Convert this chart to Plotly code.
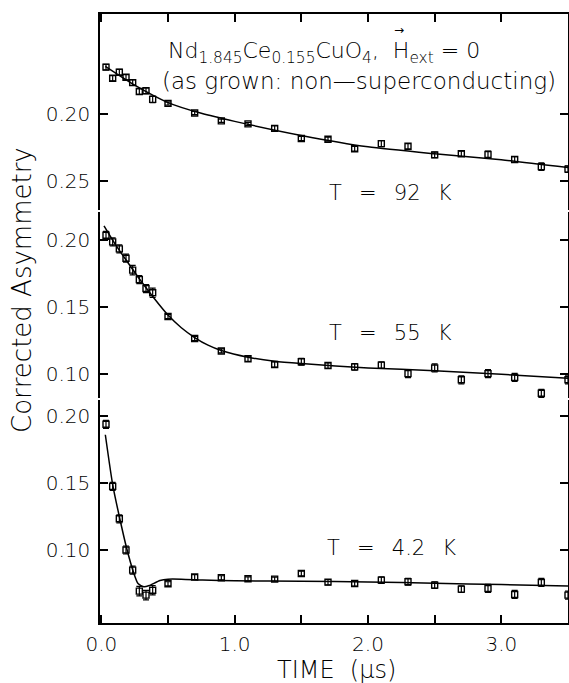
import plotly.graph_objects as go

# ---------------- data ----------------
time_us = [0.035, 0.085, 0.135, 0.185, 0.235, 0.285, 0.335, 0.385,
           0.5, 0.7, 0.9, 1.1, 1.3, 1.5, 1.7, 1.9, 2.1, 2.3, 2.5, 2.7,
           2.9, 3.1, 3.3, 3.5]

asym_92K = [0.2350, 0.2267, 0.2312, 0.2274, 0.2234, 0.2168, 0.2173, 0.2109,
            0.2079, 0.2008, 0.1949, 0.1926, 0.1893, 0.1817, 0.1812, 0.1741,
            0.1779, 0.1759, 0.1695, 0.1703, 0.1698, 0.1660, 0.1607, 0.1589]
err_92K = [0.0020, 0.0020, 0.0022, 0.0020, 0.0020, 0.0022, 0.0022, 0.0025,
           0.0012, 0.0012, 0.0012, 0.0012, 0.0018, 0.0015, 0.0015, 0.0018,
           0.0022, 0.0020, 0.0020, 0.0020, 0.0025, 0.0022, 0.0028, 0.0025]

asym_55K = [0.2035, 0.1986, 0.1934, 0.1864, 0.1775, 0.1704, 0.1638, 0.1606,
            0.1429, 0.1265, 0.1172, 0.1114, 0.1071, 0.1091, 0.1063, 0.1053,
            0.1066, 0.1003, 0.1045, 0.0957, 0.1003, 0.0975, 0.0856, 0.0957]
err_55K = [0.003, 0.003, 0.003, 0.003, 0.0035, 0.003, 0.003, 0.0035,
           0.0015, 0.0015, 0.0015, 0.002, 0.002, 0.0025, 0.002, 0.0025,
           0.0025, 0.003, 0.003, 0.003, 0.003, 0.003, 0.003, 0.003]

asym_4K = [0.1938, 0.1475, 0.1233, 0.1000, 0.0850, 0.0693, 0.0663, 0.0700,
           0.0748, 0.0798, 0.0793, 0.0785, 0.0783, 0.0825, 0.0760, 0.0750,
           0.0775, 0.0763, 0.0738, 0.0708, 0.0713, 0.0668, 0.0758, 0.0663]
err_4K = [0.003, 0.003, 0.003, 0.003, 0.003, 0.0035, 0.0035, 0.0035,
          0.0015, 0.0018, 0.0015, 0.0015, 0.0015, 0.0018, 0.002, 0.002,
          0.0025, 0.0025, 0.0025, 0.0025, 0.003, 0.003, 0.003, 0.003]

fit_92K_t = [0.03, 0.25, 0.5, 0.75, 1.0, 1.5, 2.0, 2.5, 3.0, 3.5]
fit_92K_v = [0.2355, 0.2215, 0.2085, 0.2005, 0.1945, 0.1840, 0.1755, 0.1703, 0.1658, 0.1600]

fit_55K_t = [0.02, 0.1, 0.2, 0.3, 0.4, 0.5, 0.6, 0.7, 0.8, 0.9, 1.1, 1.3, 1.5, 2.0, 2.5, 3.0, 3.5]
fit_55K_v = [0.2105, 0.1975, 0.1830, 0.1690, 0.1560, 0.1440, 0.1345, 0.1272, 0.1215,
             0.1175, 0.1125, 0.1095, 0.1078, 0.1045, 0.1025, 0.0998, 0.0968]

fit_4K_t = [0.03, 0.085, 0.135, 0.19, 0.24, 0.275, 0.32, 0.36, 0.44, 0.5, 0.6, 0.76,
            1.0, 1.5, 2.0, 2.5, 3.0, 3.5]
fit_4K_v = [0.1860, 0.1488, 0.1250, 0.1013, 0.0838, 0.0750, 0.0725, 0.0735, 0.0772,
            0.0782, 0.0782, 0.0776, 0.0770, 0.0766, 0.0762, 0.0752, 0.0742, 0.0731]

x_tickvals = [0.0, 1.0, 2.0, 3.0]
x_ticktext = ["0.0", "1.0", "2.0", "3.0"]

top_tickvals = [0.20, 0.15]
top_ticktext = ["0.20", "0.25"]
mid_tickvals = [0.20, 0.15, 0.10]
mid_ticktext = ["0.20", "0.15", "0.10"]
bot_tickvals = [0.20, 0.15, 0.10]
bot_ticktext = ["0.20", "0.15", "0.10"]

# ---------------- figure ----------------
FONT = "DejaVu Sans"
WEIGHT = 200
W, H = 569, 683
ML, MR, MT, MB = 100, 1, 14, 60
PLOT_H = H - MT - MB


def py(pix):
    """pixel row -> paper fraction"""
    return (H - MB - pix) / PLOT_H


def fnt(size, weight=WEIGHT):
    return dict(family=FONT, size=size, color="black", weight=weight)


fig = go.Figure()

panels = [
    ("y3", asym_92K, err_92K, fit_92K_t, fit_92K_v),
    ("y2", asym_55K, err_55K, fit_55K_t, fit_55K_v),
    ("y", asym_4K, err_4K, fit_4K_t, fit_4K_v),
]
for yax, vals, errs, ft, fv in panels:
    fig.add_trace(go.Scatter(
        x=ft, y=fv, xaxis="x", yaxis=yax, mode="lines",
        line=dict(color="black", width=1.5, shape="spline", smoothing=0.6),
        showlegend=False, hoverinfo="skip"))
    fig.add_trace(go.Scatter(
        x=time_us, y=vals, xaxis="x", yaxis=yax, mode="markers",
        marker=dict(symbol="square-open", size=6, color="black",
                    line=dict(width=1.4, color="black")),
        error_y=dict(type="data", array=errs, color="black",
                     thickness=1.2, width=3),
        showlegend=False))

yaxis_common = dict(
    anchor="x", showline=True, linecolor="black", linewidth=1.5,
    mirror="ticks", ticks="inside", ticklen=8, tickwidth=1.5,
    tickcolor="black", showgrid=False, zeroline=False,
    tickfont=fnt(20), ticklabelstandoff=4, automargin=False,
)

minor_x = dict(ticks="inside", ticklen=8, tickwidth=1.5, tickcolor="black",
               dtick=0.5, tick0=0, showgrid=False)

fig.update_layout(
    width=W, height=H,
    margin=dict(l=ML, r=MR, t=MT, b=MB),
    paper_bgcolor="white", plot_bgcolor="white",
    showlegend=False,
    xaxis=dict(
        domain=[0, 1], range=[-0.01, 3.5], anchor="y",
        showline=True, linecolor="black", linewidth=1.5,
        ticks="inside", ticklen=8, tickwidth=1.5, tickcolor="black",
        tickvals=x_tickvals, ticktext=x_ticktext, minor=minor_x,
        showgrid=False, zeroline=False, automargin=False,
        tickfont=fnt(20), ticklabelstandoff=2,
    ),
    xaxis2=dict(
        domain=[0, 1], matches="x", anchor="y3", side="top", overlaying="x",
        showline=True, linecolor="black", linewidth=1.5,
        ticks="inside", ticklen=8, tickwidth=1.5, tickcolor="black",
        tickvals=x_tickvals, showticklabels=False, minor=minor_x,
        showgrid=False, zeroline=False, automargin=False,
    ),
    yaxis3=dict(domain=[py(210), 1.0], range=[0.12836, 0.27463],
                tickvals=top_tickvals, ticktext=top_ticktext, **yaxis_common),
    yaxis2=dict(domain=[py(398), py(212)], range=[0.08209, 0.22090],
                tickvals=mid_tickvals, ticktext=mid_ticktext, **yaxis_common),
    yaxis=dict(domain=[0, py(400)], range=[0.04552, 0.21194],
               tickvals=bot_tickvals, ticktext=bot_ticktext, **yaxis_common),
)

# placeholder trace so that the top axis (xaxis2) is drawn
fig.add_trace(go.Scatter(x=[None], y=[None], xaxis="x2", yaxis="y3",
                         showlegend=False, hoverinfo="skip"))

NB = "\u00a0"
GAP = NB + "\u2002"
ann = []


def add_text(text, xpix, ypix, size, xanchor="left", angle=0, weight=WEIGHT):
    ann.append(dict(
        text=text, xref="paper", yref="paper",
        x=(xpix - ML) / (W - ML - MR), y=py(ypix),
        xanchor=xanchor, yanchor="middle", showarrow=False,
        textangle=angle, font=fnt(size, weight)))


add_text("Nd<sub>1.845</sub>Ce<sub>0.155</sub>CuO<sub>4</sub>," + NB * 2
         + "H<sub>ext</sub>" + NB + "=" + NB + "0", 166, 52, 22)
add_text("\u2192", 399, 30, 12, xanchor="center", weight=400)   # vector arrow over H
add_text("(as grown: non\u2014superconducting)", 160, 81, 23)
add_text("T" + GAP + "=" + GAP + "92" + GAP + "K", 327, 193, 21)
add_text("T" + GAP + "=" + GAP + "55" + GAP + "K", 327, 333, 21)
add_text("T" + GAP + "=" + GAP + "4.2" + GAP + "K", 325, 548, 21)
add_text("TIME" + NB + NB + "(\u03bcs)", 336, 670, 24, xanchor="center")
add_text("Corrected" + NB + "Asymmetry", 22, 290, 26, xanchor="center", angle=-90)

fig.update_layout(annotations=ann)

fig.write_html("out.html",
               config={"displayModeBar": False},
               post_script="document.body.style.margin='0';"
                           "document.body.style.padding='0';"
                           "document.body.style.overflow='hidden';")
